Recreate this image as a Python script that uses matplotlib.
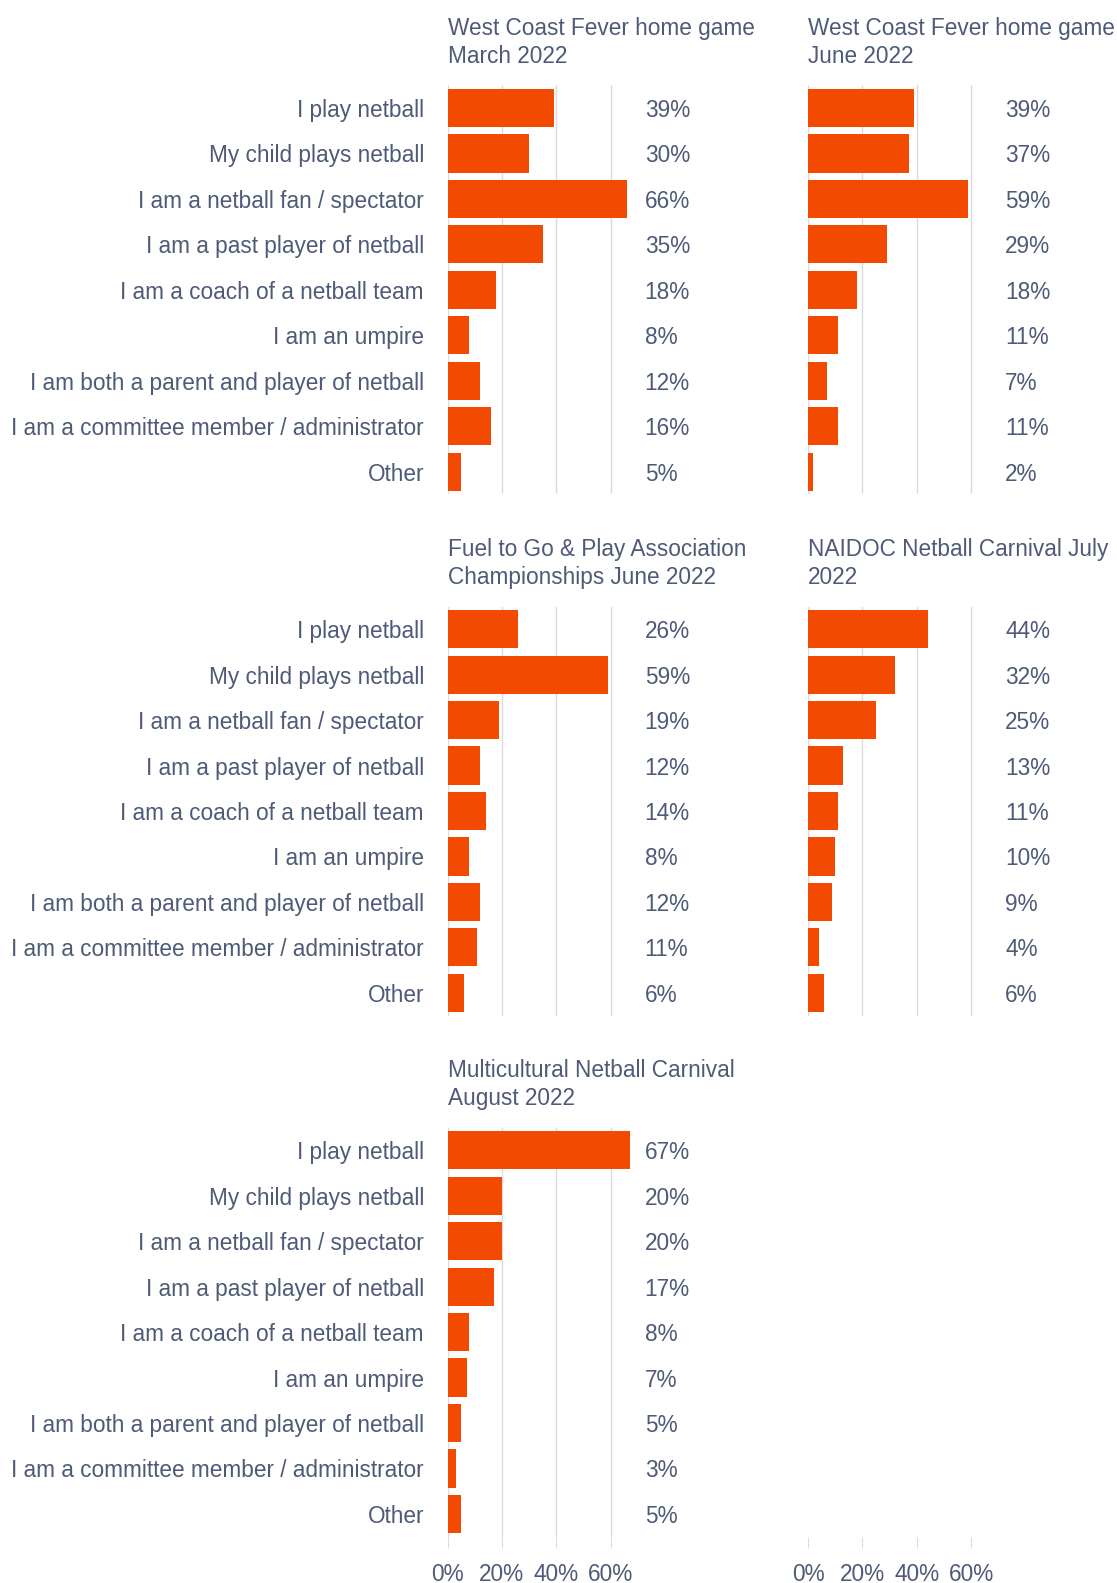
import matplotlib
matplotlib.use("Agg")
import matplotlib.pyplot as plt

plt.rcParams['font.family'] = ['Liberation Sans', 'DejaVu Sans']

categories = [
    "I play netball",
    "My child plays netball",
    "I am a netball fan / spectator",
    "I am a past player of netball",
    "I am a coach of a netball team",
    "I am an umpire",
    "I am both a parent and player of netball",
    "I am a committee member / administrator",
    "Other",
]

titles = [
    "West Coast Fever home game\nMarch 2022",
    "West Coast Fever home game\nJune 2022",
    "Fuel to Go & Play Association\nChampionships June 2022",
    "NAIDOC Netball Carnival July\n2022",
    "Multicultural Netball Carnival\nAugust 2022",
]

wcf_march = [39, 30, 66, 35, 18, 8, 12, 16, 5]
wcf_june = [39, 37, 59, 29, 18, 11, 7, 11, 2]
fuel_june = [26, 59, 19, 12, 14, 8, 12, 11, 6]
naidoc_july = [44, 32, 25, 13, 11, 10, 9, 4, 6]
multicultural_aug = [67, 20, 20, 17, 8, 7, 5, 3, 5]

series = [wcf_march, wcf_june, fuel_june, naidoc_july, multicultural_aug]

xticks = [0, 20, 40, 60]
xticklabels = ["0%", "20%", "40%", "60%"]

BAR = "#F24A00"
TXT = "#4d5a78"
GRID = "#dcdcdc"

W, H = 1117, 1583
fig = plt.figure(figsize=(W / 100, H / 100), dpi=100)

px_per_pct = 2.72
xmax = 68
ax_w = xmax * px_per_pct
ax_h = 9 * 45.45
col_x = [447.5, 808]
row_top = [85.3, 606.5, 1127.6]

FS = 16.3

def make_ax(col, row):
    left = col_x[col] / W
    bottom = 1 - (row_top[row] + ax_h) / H
    return fig.add_axes([left, bottom, ax_w / W, ax_h / H])

positions = [(0, 0), (1, 0), (0, 1), (1, 1), (0, 2)]
for i, (col, row) in enumerate(positions):
    ax = make_ax(col, row)
    vals = series[i]
    y = list(range(len(categories)))
    ax.barh(y, vals, height=0.84, color=BAR, zorder=3)
    ax.set_xlim(0, xmax)
    ax.set_ylim(len(categories) - 0.5, -0.5)
    ax.set_xticks(xticks)
    ax.grid(axis='x', color=GRID, linewidth=1, zorder=0)
    for s in ax.spines.values():
        s.set_visible(False)
    if col == 0:
        ax.set_yticks(y)
        ax.set_yticklabels(categories, fontsize=FS, color=TXT)
        ax.tick_params(axis='y', length=0, pad=17)
    else:
        ax.set_yticks([])
    if row == 2:
        ax.set_xticklabels(xticklabels, fontsize=FS, color=TXT)
        ax.tick_params(axis='x', length=8, color=GRID, pad=11)
    else:
        ax.tick_params(axis='x', length=0, labelbottom=False)
    for yi, v in zip(y, vals):
        ax.text(72.5, yi, f"{v}%", ha='left', va='center_baseline', fontsize=FS,
                color=TXT, clip_on=False)
    ax.annotate(titles[i], xy=(0, 1), xycoords='axes fraction',
                xytext=(0, 31), textcoords='offset points',
                ha='left', va='center', fontsize=FS, color=TXT,
                linespacing=1.26)

# empty bottom-right axes with tick stubs only
ax = make_ax(1, 2)
ax.set_xlim(0, xmax)
ax.set_ylim(0, 1)
ax.set_yticks([])
ax.set_xticks(xticks)
ax.set_xticklabels(xticklabels, fontsize=FS, color=TXT)
ax.tick_params(axis='x', length=8, color=GRID, pad=11)
for s in ax.spines.values():
    s.set_visible(False)
ax.patch.set_visible(False)

fig.savefig("out.png", dpi=100, facecolor="white")
